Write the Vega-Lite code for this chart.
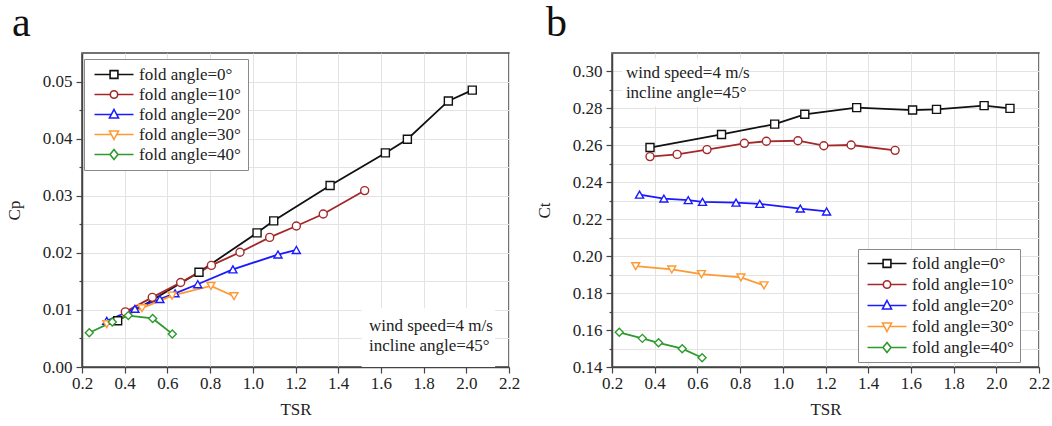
{
  "$schema": "https://vega.github.io/schema/vega-lite/v6.json",
  "padding": {"left": 4, "top": 1, "right": 5, "bottom": 0},
  "background": "white",
  "datasets": {
    "cp": [
      {"s": "fold angle=0°", "tsr": 0.367, "v": 0.0081},
      {"s": "fold angle=0°", "tsr": 0.748, "v": 0.0166},
      {"s": "fold angle=0°", "tsr": 1.020, "v": 0.0235},
      {"s": "fold angle=0°", "tsr": 1.098, "v": 0.0256},
      {"s": "fold angle=0°", "tsr": 1.362, "v": 0.0318},
      {"s": "fold angle=0°", "tsr": 1.621, "v": 0.0375},
      {"s": "fold angle=0°", "tsr": 1.724, "v": 0.0399},
      {"s": "fold angle=0°", "tsr": 1.916, "v": 0.0466},
      {"s": "fold angle=0°", "tsr": 2.028, "v": 0.0485},
      {"s": "fold angle=10°", "tsr": 0.403, "v": 0.00965},
      {"s": "fold angle=10°", "tsr": 0.529, "v": 0.0122},
      {"s": "fold angle=10°", "tsr": 0.662, "v": 0.0148},
      {"s": "fold angle=10°", "tsr": 0.806, "v": 0.0178},
      {"s": "fold angle=10°", "tsr": 0.940, "v": 0.0201},
      {"s": "fold angle=10°", "tsr": 1.079, "v": 0.0227},
      {"s": "fold angle=10°", "tsr": 1.204, "v": 0.0247},
      {"s": "fold angle=10°", "tsr": 1.330, "v": 0.0268},
      {"s": "fold angle=10°", "tsr": 1.524, "v": 0.0309},
      {"s": "fold angle=20°", "tsr": 0.316, "v": 0.0081},
      {"s": "fold angle=20°", "tsr": 0.448, "v": 0.0102},
      {"s": "fold angle=20°", "tsr": 0.565, "v": 0.0119},
      {"s": "fold angle=20°", "tsr": 0.636, "v": 0.0129},
      {"s": "fold angle=20°", "tsr": 0.742, "v": 0.0145},
      {"s": "fold angle=20°", "tsr": 0.907, "v": 0.0171},
      {"s": "fold angle=20°", "tsr": 1.118, "v": 0.0197},
      {"s": "fold angle=20°", "tsr": 1.204, "v": 0.0205},
      {"s": "fold angle=30°", "tsr": 0.316, "v": 0.0075},
      {"s": "fold angle=30°", "tsr": 0.481, "v": 0.0103},
      {"s": "fold angle=30°", "tsr": 0.622, "v": 0.0125},
      {"s": "fold angle=30°", "tsr": 0.804, "v": 0.0142},
      {"s": "fold angle=30°", "tsr": 0.912, "v": 0.0124},
      {"s": "fold angle=40°", "tsr": 0.234, "v": 0.0060},
      {"s": "fold angle=40°", "tsr": 0.342, "v": 0.0079},
      {"s": "fold angle=40°", "tsr": 0.417, "v": 0.0090},
      {"s": "fold angle=40°", "tsr": 0.531, "v": 0.0085},
      {"s": "fold angle=40°", "tsr": 0.623, "v": 0.0058}
    ],
    "ct": [
      {"s": "fold angle=0°", "tsr": 0.378, "v": 0.2588},
      {"s": "fold angle=0°", "tsr": 0.713, "v": 0.2659},
      {"s": "fold angle=0°", "tsr": 0.962, "v": 0.2715},
      {"s": "fold angle=0°", "tsr": 1.103, "v": 0.2768},
      {"s": "fold angle=0°", "tsr": 1.346, "v": 0.2804},
      {"s": "fold angle=0°", "tsr": 1.608, "v": 0.2791},
      {"s": "fold angle=0°", "tsr": 1.720, "v": 0.2795},
      {"s": "fold angle=0°", "tsr": 1.943, "v": 0.2815},
      {"s": "fold angle=0°", "tsr": 2.064, "v": 0.2800},
      {"s": "fold angle=10°", "tsr": 0.378, "v": 0.2539},
      {"s": "fold angle=10°", "tsr": 0.505, "v": 0.2551},
      {"s": "fold angle=10°", "tsr": 0.645, "v": 0.2577},
      {"s": "fold angle=10°", "tsr": 0.820, "v": 0.2611},
      {"s": "fold angle=10°", "tsr": 0.923, "v": 0.2622},
      {"s": "fold angle=10°", "tsr": 1.071, "v": 0.2625},
      {"s": "fold angle=10°", "tsr": 1.192, "v": 0.2598},
      {"s": "fold angle=10°", "tsr": 1.320, "v": 0.2602},
      {"s": "fold angle=10°", "tsr": 1.526, "v": 0.2573},
      {"s": "fold angle=20°", "tsr": 0.329, "v": 0.2333},
      {"s": "fold angle=20°", "tsr": 0.443, "v": 0.2312},
      {"s": "fold angle=20°", "tsr": 0.557, "v": 0.2303},
      {"s": "fold angle=20°", "tsr": 0.624, "v": 0.2294},
      {"s": "fold angle=20°", "tsr": 0.781, "v": 0.2290},
      {"s": "fold angle=20°", "tsr": 0.892, "v": 0.2283},
      {"s": "fold angle=20°", "tsr": 1.082, "v": 0.2258},
      {"s": "fold angle=20°", "tsr": 1.205, "v": 0.2242},
      {"s": "fold angle=30°", "tsr": 0.311, "v": 0.1946},
      {"s": "fold angle=30°", "tsr": 0.480, "v": 0.1928},
      {"s": "fold angle=30°", "tsr": 0.619, "v": 0.1903},
      {"s": "fold angle=30°", "tsr": 0.804, "v": 0.1885},
      {"s": "fold angle=30°", "tsr": 0.912, "v": 0.1842},
      {"s": "fold angle=40°", "tsr": 0.234, "v": 0.1588},
      {"s": "fold angle=40°", "tsr": 0.342, "v": 0.1555},
      {"s": "fold angle=40°", "tsr": 0.418, "v": 0.1531},
      {"s": "fold angle=40°", "tsr": 0.529, "v": 0.1499},
      {"s": "fold angle=40°", "tsr": 0.622, "v": 0.1450}
    ]
  },
  "spacing": 13,
  "resolve": {"scale": {"color": "independent", "shape": "independent"}, "legend": {"color": "independent", "shape": "independent"}},
  "hconcat": [
    {
      "width": 427,
      "height": 314,
      "title": {"text": "a", "anchor": "start", "frame": "group", "dx": -70, "offset": -25, "baseline": "alphabetic", "fontSize": 42, "font": "Liberation Serif", "fontWeight": "normal", "color": "#111"},
      "resolve": {"scale": {"color": "independent", "shape": "independent"}, "legend": {"color": "independent", "shape": "independent"}},
      "layer": [
        {
          "data": {"values": [{}]},
          "mark": {"type": "rect", "fill": "white"},
          "encoding": {
            "x": {"datum": 1.51, "type": "quantitative"},
            "x2": {"datum": 2.135},
            "y": {"datum": 0.0103, "type": "quantitative"},
            "y2": {"datum": 0.0}
          }
        },
        {
          "data": {"values": [{}]},
          "mark": {"type": "text", "align": "left", "baseline": "alphabetic", "font": "Liberation Serif", "fontSize": 17, "color": "#222"},
          "encoding": {
            "x": {"datum": 1.544, "type": "quantitative"},
            "y": {"datum": 0.0063, "type": "quantitative"},
            "text": {"value": "wind speed=4 m/s"}
          }
        },
        {
          "data": {"values": [{}]},
          "mark": {"type": "text", "align": "left", "baseline": "alphabetic", "font": "Liberation Serif", "fontSize": 17, "color": "#222"},
          "encoding": {
            "x": {"datum": 1.544, "type": "quantitative"},
            "y": {"datum": 0.0028, "type": "quantitative"},
            "text": {"value": "incline angle=45°"}
          }
        },
        {
          "data": {"name": "cp"},
          "mark": {"type": "line", "strokeWidth": 1.8},
          "encoding": {
            "x": {"field": "tsr", "type": "quantitative", "scale": {"domain": [0.2, 2.2], "nice": false, "zero": false},
              "axis": {"title": "TSR", "values": [0.2, 0.4, 0.6, 0.8, 1.0, 1.2, 1.4, 1.6, 1.8, 2.0, 2.2], "tickCount": 40, "format": ".1f", "tickSize": 6, "labelPadding": 2, "titlePadding": 10, "grid": true, "labelFlush": false, "labelOverlap": false}},
            "y": {"field": "v", "type": "quantitative", "scale": {"domain": [0, 0.055], "nice": false, "zero": false},
              "axis": {"title": "Cp", "values": [0, 0.005, 0.01, 0.015, 0.02, 0.025, 0.03, 0.035, 0.04, 0.045, 0.05], "tickCount": 40,
                "labelExpr": "round(datum.value*1000) % 10 == 0 ? format(datum.value, '.2f') : ''",
                "tickSize": {"condition": {"test": "round(datum.value*1000) % 10 == 0", "value": 6}, "value": 3},
                "labelPadding": 4, "titlePadding": 19, "grid": true, "labelFlush": false, "labelOverlap": false}},
            "color": {"field": "s", "type": "nominal", "legend": null,
              "scale": {"domain": ["fold angle=0°", "fold angle=10°", "fold angle=20°", "fold angle=30°", "fold angle=40°"], "range": ["#111111", "#a3282a", "#1a1aff", "#ff9933", "#2e9a2e"]}}
          }
        },
        {
          "data": {"name": "cp"},
          "mark": {"type": "point", "filled": false, "fill": "white", "fillOpacity": 1, "opacity": 1, "size": 64, "strokeWidth": 1.4},
          "encoding": {
            "x": {"field": "tsr", "type": "quantitative"},
            "y": {"field": "v", "type": "quantitative"},
            "color": {"field": "s", "type": "nominal", "legend": null,
              "scale": {"domain": ["fold angle=0°", "fold angle=10°", "fold angle=20°", "fold angle=30°", "fold angle=40°"], "range": ["#111111", "#a3282a", "#1a1aff", "#ff9933", "#2e9a2e"]}},
            "shape": {"field": "s", "type": "nominal", "legend": null,
              "scale": {"domain": ["fold angle=0°", "fold angle=10°", "fold angle=20°", "fold angle=30°", "fold angle=40°"], "range": ["square", "circle", "triangle-up", "triangle-down", "diamond"]}}
          }
        },
        {
          "data": {"name": "cp"},
          "mark": {"type": "point", "filled": false, "opacity": 0, "strokeWidth": 1.6},
          "encoding": {
            "x": {"field": "tsr", "type": "quantitative"},
            "y": {"field": "v", "type": "quantitative"},
            "color": {"field": "s", "type": "nominal",
              "scale": {"domain": ["fold angle=0°", "fold angle=10°", "fold angle=20°", "fold angle=30°", "fold angle=40°"], "range": ["#111111", "#a3282a", "#1a1aff", "#ff9933", "#2e9a2e"]},
              "legend": {"title": null, "orient": "none", "legendX": 2, "legendY": 6, "fillColor": "white", "strokeColor": "#8a8a8a", "padding": 7, "rowPadding": 2, "labelFont": "Liberation Serif", "labelFontSize": 17, "labelColor": "#222", "labelOffset": 31, "symbolSize": 100, "symbolStrokeWidth": 1.6, "symbolOpacity": 1, "symbolFillColor": "white", "labelLimit": 300}},
            "shape": {"field": "s", "type": "nominal",
              "scale": {"domain": ["fold angle=0°", "fold angle=10°", "fold angle=20°", "fold angle=30°", "fold angle=40°"],
                "range": ["M-1,0H2.12M3.68,0H6.8M2.12,-0.78H3.68V0.78H2.12Z", "M-1,0H2.16M3.64,0H6.8M2.16,0A0.74,0.74 0 1,0 3.64,0A0.74,0.74 0 1,0 2.16,0Z", "M-1,0H2.4M3.4,0H6.8M2.9,-1L3.8,0.7L2,0.7Z", "M-1,0H2.4M3.4,0H6.8M2.9,1L3.8,-0.7L2,-0.7Z", "M-1,0H2.1M3.7,0H6.8M2.9,-1L3.7,0L2.9,1L2.1,0Z"]},
              "legend": {"title": null, "orient": "none", "legendX": 2, "legendY": 6, "fillColor": "white", "strokeColor": "#8a8a8a", "padding": 7, "rowPadding": 2, "labelFont": "Liberation Serif", "labelFontSize": 17, "labelColor": "#222", "labelOffset": 31, "symbolSize": 100, "symbolStrokeWidth": 1.6, "symbolOpacity": 1, "symbolFillColor": "white", "labelLimit": 300}}
          }
        }
      ]
    },
    {
      "width": 427,
      "height": 314,
      "title": {"text": "b", "anchor": "start", "frame": "group", "dx": -66, "offset": -25, "baseline": "alphabetic", "fontSize": 42, "font": "Liberation Serif", "fontWeight": "normal", "color": "#111"},
      "resolve": {"scale": {"color": "independent", "shape": "independent"}, "legend": {"color": "independent", "shape": "independent"}},
      "layer": [
        {
          "data": {"values": [{}]},
          "mark": {"type": "rect", "fill": "white"},
          "encoding": {
            "x": {"datum": 0.247, "type": "quantitative"},
            "x2": {"datum": 0.835},
            "y": {"datum": 0.307, "type": "quantitative"},
            "y2": {"datum": 0.281}
          }
        },
        {
          "data": {"values": [{}]},
          "mark": {"type": "text", "align": "left", "baseline": "alphabetic", "font": "Liberation Serif", "fontSize": 17, "color": "#222"},
          "encoding": {
            "x": {"datum": 0.265, "type": "quantitative"},
            "y": {"datum": 0.2962, "type": "quantitative"},
            "text": {"value": "wind speed=4 m/s"}
          }
        },
        {
          "data": {"values": [{}]},
          "mark": {"type": "text", "align": "left", "baseline": "alphabetic", "font": "Liberation Serif", "fontSize": 17, "color": "#222"},
          "encoding": {
            "x": {"datum": 0.265, "type": "quantitative"},
            "y": {"datum": 0.2854, "type": "quantitative"},
            "text": {"value": "incline angle=45°"}
          }
        },
        {
          "data": {"name": "ct"},
          "mark": {"type": "line", "strokeWidth": 1.8},
          "encoding": {
            "x": {"field": "tsr", "type": "quantitative", "scale": {"domain": [0.2, 2.2], "nice": false, "zero": false},
              "axis": {"title": "TSR", "values": [0.2, 0.4, 0.6, 0.8, 1.0, 1.2, 1.4, 1.6, 1.8, 2.0, 2.2], "tickCount": 40, "format": ".1f", "tickSize": 6, "labelPadding": 2, "titlePadding": 10, "grid": true, "labelFlush": false, "labelOverlap": false}},
            "y": {"field": "v", "type": "quantitative", "scale": {"domain": [0.14, 0.31], "nice": false, "zero": false},
              "axis": {"title": "Ct", "values": [0.14, 0.15, 0.16, 0.17, 0.18, 0.19, 0.2, 0.21, 0.22, 0.23, 0.24, 0.25, 0.26, 0.27, 0.28, 0.29, 0.3], "tickCount": 40,
                "labelExpr": "round(datum.value*100) % 2 == 0 ? format(datum.value, '.2f') : ''",
                "tickSize": {"condition": {"test": "round(datum.value*100) % 2 == 0", "value": 6}, "value": 3},
                "labelPadding": 4, "titlePadding": 19, "grid": true, "labelFlush": false, "labelOverlap": false}},
            "color": {"field": "s", "type": "nominal", "legend": null,
              "scale": {"domain": ["fold angle=0°", "fold angle=10°", "fold angle=20°", "fold angle=30°", "fold angle=40°"], "range": ["#111111", "#a3282a", "#1a1aff", "#ff9933", "#2e9a2e"]}}
          }
        },
        {
          "data": {"name": "ct"},
          "mark": {"type": "point", "filled": false, "fill": "white", "fillOpacity": 1, "opacity": 1, "size": 64, "strokeWidth": 1.4},
          "encoding": {
            "x": {"field": "tsr", "type": "quantitative"},
            "y": {"field": "v", "type": "quantitative"},
            "color": {"field": "s", "type": "nominal", "legend": null,
              "scale": {"domain": ["fold angle=0°", "fold angle=10°", "fold angle=20°", "fold angle=30°", "fold angle=40°"], "range": ["#111111", "#a3282a", "#1a1aff", "#ff9933", "#2e9a2e"]}},
            "shape": {"field": "s", "type": "nominal", "legend": null,
              "scale": {"domain": ["fold angle=0°", "fold angle=10°", "fold angle=20°", "fold angle=30°", "fold angle=40°"], "range": ["square", "circle", "triangle-up", "triangle-down", "diamond"]}}
          }
        },
        {
          "data": {"name": "ct"},
          "mark": {"type": "point", "filled": false, "opacity": 0, "strokeWidth": 1.6},
          "encoding": {
            "x": {"field": "tsr", "type": "quantitative"},
            "y": {"field": "v", "type": "quantitative"},
            "color": {"field": "s", "type": "nominal",
              "scale": {"domain": ["fold angle=0°", "fold angle=10°", "fold angle=20°", "fold angle=30°", "fold angle=40°"], "range": ["#111111", "#a3282a", "#1a1aff", "#ff9933", "#2e9a2e"]},
              "legend": {"title": null, "orient": "none", "legendX": 246, "legendY": 196, "fillColor": "white", "strokeColor": "#8a8a8a", "padding": 6, "rowPadding": 3, "labelFont": "Liberation Serif", "labelFontSize": 17, "labelColor": "#222", "labelOffset": 31, "symbolSize": 100, "symbolStrokeWidth": 1.6, "symbolOpacity": 1, "symbolFillColor": "white", "labelLimit": 300}},
            "shape": {"field": "s", "type": "nominal",
              "scale": {"domain": ["fold angle=0°", "fold angle=10°", "fold angle=20°", "fold angle=30°", "fold angle=40°"],
                "range": ["M-1,0H2.12M3.68,0H6.8M2.12,-0.78H3.68V0.78H2.12Z", "M-1,0H2.16M3.64,0H6.8M2.16,0A0.74,0.74 0 1,0 3.64,0A0.74,0.74 0 1,0 2.16,0Z", "M-1,0H2.4M3.4,0H6.8M2.9,-1L3.8,0.7L2,0.7Z", "M-1,0H2.4M3.4,0H6.8M2.9,1L3.8,-0.7L2,-0.7Z", "M-1,0H2.1M3.7,0H6.8M2.9,-1L3.7,0L2.9,1L2.1,0Z"]},
              "legend": {"title": null, "orient": "none", "legendX": 246, "legendY": 196, "fillColor": "white", "strokeColor": "#8a8a8a", "padding": 6, "rowPadding": 3, "labelFont": "Liberation Serif", "labelFontSize": 17, "labelColor": "#222", "labelOffset": 31, "symbolSize": 100, "symbolStrokeWidth": 1.6, "symbolOpacity": 1, "symbolFillColor": "white", "labelLimit": 300}}
          }
        }
      ]
    }
  ],
  "config": {
    "font": "Liberation Serif",
    "view": {"stroke": "#444444", "strokeWidth": 1.5},
    "axis": {"labelFont": "Liberation Serif", "titleFont": "Liberation Serif", "labelFontSize": 17, "titleFontSize": 17, "titleFontWeight": "normal", "labelColor": "#222222", "titleColor": "#222222", "domainColor": "#444444", "tickColor": "#444444", "gridColor": "#e3e3e3", "domainWidth": 1.5, "tickWidth": 1.2}
  }
}
